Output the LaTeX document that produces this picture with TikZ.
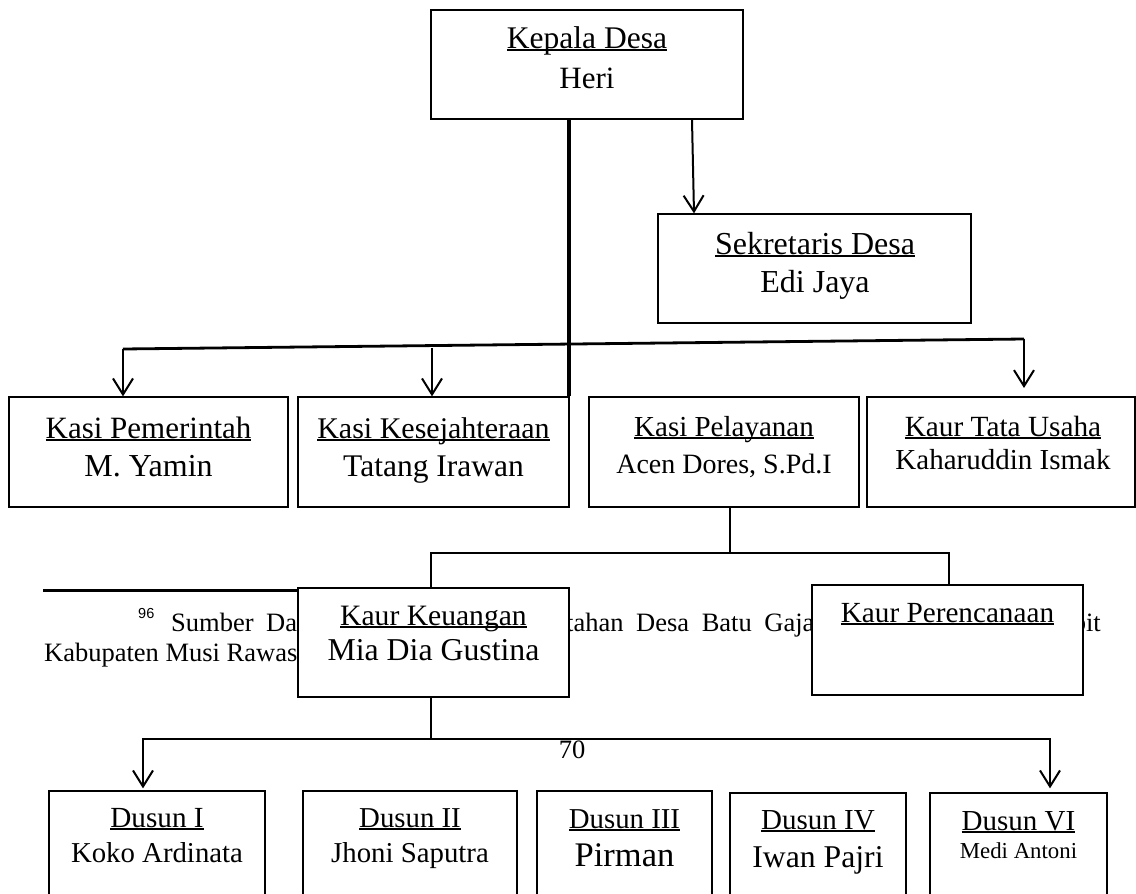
\documentclass[tikz,border=0pt]{standalone}
\usepackage{fontspec}
\setmainfont{Liberation Serif}
\newfontfamily\supfont{Liberation Sans}
\usetikzlibrary{arrows.meta,fit}
\newsavebox\ulbox
\newcommand\ulx[1]{\sbox\ulbox{#1}\rlap{\usebox\ulbox}\rule[-0.09em]{\wd\ulbox}{0.065em}}
\newcommand\fsz[1]{\fontsize{#1}{#1}\selectfont}
\newcommand\fsp{\hspace*{12.6pt}}
\begin{document}
\begin{tikzpicture}[x=1pt,y=-1pt,
  box/.style={draw, line width=1.3pt, fill=white, inner sep=0pt},
  txt/.style={anchor=base, inner sep=0pt},
  conn/.style={line width=2pt, line join=miter},
  arr/.style={line width=2pt, line join=miter, -{Straight Barb[length=16pt,width=20pt]}},
  fnote/.style={anchor=base west, inner sep=0pt, font=\fsz{26.5}}]
\clip (0,0) rectangle (1136,894);
\fill[white] (0,0) rectangle (1136,894);

% footnote (behind the boxes)
\node[anchor=base west, inner sep=0pt, font=\supfont\fsz{14.5}] (fn96) at (138,618) {96};
\node[fnote] (fn1) at (171,631) {Sumber\fsp Data};
\node[fnote] (fn2) at (566,631) {tahan\fsp Desa\fsp Batu\fsp Gaja};
\node[anchor=base east, inner sep=0pt, font=\fsz{26.5}] (fn3) at (1101,631) {bit};
\node[fnote] (fn4) at (44,661) {Kabupaten Musi Rawas};
\coordinate (fr1) at (43,590.5);
\coordinate (fr2) at (300,590.5);
\draw[line width=3.2pt] (fr1) -- (fr2);

% boxes
\node[box, fit={(431,10) (743,119)}] (kd) {};
\node[box, fit={(658,214) (971,323)}] (sd) {};
\node[box, fit={(9,397) (288,507)}] (kp) {};
\node[box, fit={(298,397) (569,507)}] (ks) {};
\node[box, fit={(589,397) (859,507)}] (kpl) {};
\node[box, fit={(867,397) (1135,507)}] (ku) {};
\node[box, fit={(298,588) (569,697)}] (kk) {};
\node[box, fit={(812,585) (1083,695)}] (kpr) {};
\node[box, fit={(49,791) (265,910)}] (d1) {};
\node[box, fit={(303,791) (517,910)}] (d2) {};
\node[box, fit={(537,791) (712,910)}] (d3) {};
\node[box, fit={(730,793) (906,910)}] (d4) {};
\node[box, fit={(930,793) (1107,910)}] (d5) {};

% texts
\node[txt, font=\fsz{31.5}] (kdt1) at (587,48) {\ulx{Kepala Desa}};
\node[txt, font=\fsz{31}] (kdt2) at (587,88) {Heri};
\node[txt, font=\fsz{32}] (sdt1) at (815,254) {\ulx{Sekretaris Desa}};
\node[txt, font=\fsz{32}] (sdt2) at (815,292) {Edi Jaya};
\node[txt, font=\fsz{31}] (kpt1) at (148.5,438) {\ulx{Kasi Pemerintah}};
\node[txt, font=\fsz{32}] (kpt2) at (148.5,476) {M. Yamin};
\node[txt, font=\fsz{30}] (kst1) at (433.5,438) {\ulx{Kasi Kesejahteraan}};
\node[txt, font=\fsz{31.5}] (kst2) at (433.5,476) {Tatang Irawan};
\node[txt, font=\fsz{29}] (kplt1) at (724,436) {\ulx{Kasi Pelayanan}};
\node[txt, font=\fsz{28}] (kplt2) at (724,473) {Acen Dores, S.Pd.I};
\node[txt, font=\fsz{29.3}] (kut1) at (1003,436) {\ulx{Kaur Tata Usaha}};
\node[txt, font=\fsz{29}] (kut2) at (1003,469) {Kaharuddin Ismak};
\node[txt, font=\fsz{29.6}] (kkt1) at (433.5,625) {\ulx{Kaur Keuangan}};
\node[txt, font=\fsz{31.8}] (kkt2) at (433.5,660) {Mia Dia Gustina};
\node[txt, font=\fsz{29.2}] (kprt1) at (947.5,622) {\ulx{Kaur Perencanaan}};
\node[txt, font=\fsz{29.2}] (d1t1) at (157,827) {\ulx{Dusun I}};
\node[txt, font=\fsz{28.8}] (d1t2) at (157,862) {Koko Ardinata};
\node[txt, font=\fsz{28.8}] (d2t1) at (410,827) {\ulx{Dusun II}};
\node[txt, font=\fsz{28.8}] (d2t2) at (410,862) {Jhoni Saputra};
\node[txt, font=\fsz{28.8}] (d3t1) at (624.5,828) {\ulx{Dusun III}};
\node[txt, font=\fsz{34.5}] (d3t2) at (624.5,866) {Pirman};
\node[txt, font=\fsz{29}] (d4t1) at (818,829) {\ulx{Dusun IV}};
\node[txt, font=\fsz{31.7}] (d4t2) at (818,867) {Iwan Pajri};
\node[txt, font=\fsz{29}] (d5t1) at (1018.5,830) {\ulx{Dusun VI}};
\node[txt, font=\fsz{22.8}] (d5t2) at (1018.5,858) {Medi Antoni};

% connectors
\coordinate (ka) at (692,0);
\coordinate (kb) at (694,0);
\draw[arr] (kd.south -| ka) -- (sd.north -| kb);
\coordinate (tx) at (569,0);
\draw[line width=4.6pt] (kd.south -| tx) -- (ks.north -| tx);
\coordinate (hL) at (123,349);
\coordinate (hM) at (432,348);
\coordinate (hR) at (1024,339);
\coordinate (hRe) at (1024,388);
\draw[line width=2.8pt] (hL) -- (hR);
\draw[arr] (hL) -- (kp.north -| hL);
\draw[arr] (hM) -- (ks.north -| hM);
\draw[arr] (hR) -- (hRe);
\coordinate (p1) at (730,553);
\coordinate (q1) at (431,553);
\coordinate (q2) at (949,553);
\draw[conn] (kpl.south -| p1) -- (p1);
\draw[conn] (kk.north -| q1) -- (q1) -- (q2) -- (kpr.north -| q2);
\coordinate (r1) at (431,739);
\coordinate (rL) at (143,739);
\coordinate (rR) at (1050,739);
\draw[conn] (kk.south -| r1) -- (r1);
\draw[arr, shorten >=2pt] (r1) -- (rL) -- (d1.north -| rL);
\draw[arr, shorten >=4pt] (r1) -- (rR) -- (d5.north -| rR);

% page number
\node[txt, font=\fsz{26.5}] (pg) at (572,758) {70};
\end{tikzpicture}
\end{document}
